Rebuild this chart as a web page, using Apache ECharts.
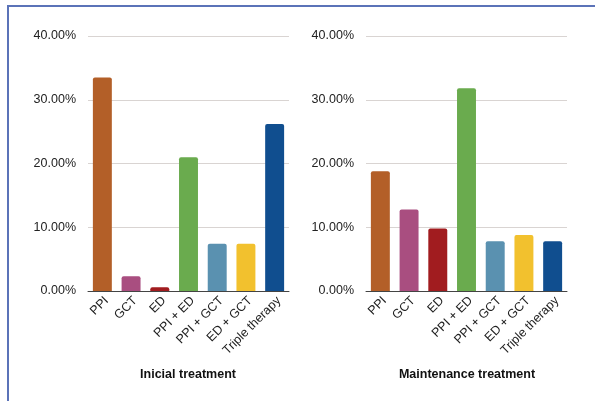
<!DOCTYPE html>
<html>
<head>
<meta charset="utf-8">
<script src="https://cdn.jsdelivr.net/npm/echarts@6/dist/echarts.min.js"></script>
<style>
html, body { margin: 0; padding: 0; background: #fff; }
#frame { position: absolute; left: 7px; top: 5px; right: 0; bottom: 0; border-top: 2px solid #5b73b8; border-left: 2px solid #5b73b8; }
#main { position: absolute; left: 0; top: 0; width: 595px; height: 401px; }
</style>
</head>
<body>
<div id="frame"></div>
<div id="main"></div>
<script>
// 类别和数值
var categories = ['PPI', 'GCT', 'ED', 'PPI + ED', 'PPI + GCT', 'ED + GCT', 'Triple therapy'];
var inicialValues = [33.5, 2.3, 0.6, 21.0, 7.4, 7.4, 26.2];
var maintenanceValues = [18.8, 12.8, 9.8, 31.8, 7.8, 8.8, 7.8];
var barColors = ['#b35f28', '#a94e80', '#a11c1f', '#6aab4e', '#5a91b0', '#f2c12e', '#104e8f'];
var titles = ['Inicial treatment', 'Maintenance treatment'];

var myChart = echarts.init(document.getElementById('main'));

function makeData(values) {
    return values.map(function (v, i) {
        return { value: v, itemStyle: { color: barColors[i] } };
    });
}

function xAxisFor(idx) {
    return {
        type: 'category',
        gridIndex: idx,
        data: categories,
        axisTick: { show: false },
        axisLine: { lineStyle: { color: '#444', width: 1 } },
        axisLabel: { rotate: 45, interval: 0, color: '#222', fontSize: 12.5, fontFamily: 'Liberation Sans',
                     margin: 12, padding: [0, -6, 0, 0] }
    };
}

function yAxisFor(idx) {
    return {
        type: 'value',
        gridIndex: idx,
        min: 0,
        max: 40,
        interval: 10,
        axisLine: { show: false },
        axisTick: { show: false },
        axisLabel: {
            color: '#222', fontSize: 12.5, fontFamily: 'Liberation Sans', margin: 12,
            formatter: function (v) { return v.toFixed(2) + '%'; }
        },
        splitLine: { lineStyle: { color: '#d9d4d2', width: 1 } }
    };
}

var option = {
    animation: false,
    title: [
        { text: titles[0], left: 183, top: 363, textAlign: 'center',
          textStyle: { fontSize: 12.5, fontWeight: 'bold', color: '#111', fontFamily: 'Liberation Sans' } },
        { text: titles[1], left: 462, top: 363, textAlign: 'center',
          textStyle: { fontSize: 12.5, fontWeight: 'bold', color: '#111', fontFamily: 'Liberation Sans' } }
    ],
    grid: [
        { left: 88, top: 36, width: 201, height: 255 },
        { left: 366, top: 36, width: 201, height: 255 }
    ],
    xAxis: [xAxisFor(0), xAxisFor(1)],
    yAxis: [yAxisFor(0), yAxisFor(1)],
    series: [
        { type: 'bar', xAxisIndex: 0, yAxisIndex: 0, barWidth: '66%',
          itemStyle: { borderRadius: [2, 2, 0, 0] }, data: makeData(inicialValues) },
        { type: 'bar', xAxisIndex: 1, yAxisIndex: 1, barWidth: '66%',
          itemStyle: { borderRadius: [2, 2, 0, 0] }, data: makeData(maintenanceValues) }
    ]
};
myChart.setOption(option);
</script>
</body>
</html>
